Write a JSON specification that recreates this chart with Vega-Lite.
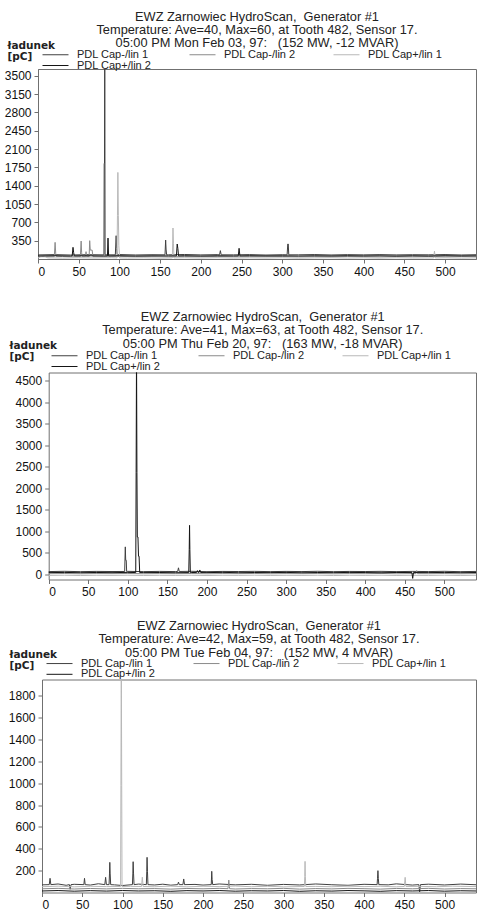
{
  "$schema": "https://vega.github.io/schema/vega-lite/v6.json",
  "padding": {"left": 3, "top": 10, "right": 0, "bottom": 0},
  "background": "white",
  "config": {
    "font": "Liberation Sans",
    "view": {"stroke": "#707070", "strokeWidth": 1},
    "axis": {"domainColor": "#707070", "tickColor": "#707070", "labelColor": "#111111", "labelFontSize": 12, "labelFont": "Liberation Sans", "grid": false, "tickSize": 4, "labelPadding": 3, "format": "d"},
    "title": {"fontSize": 12.8, "font": "Liberation Sans", "fontWeight": "normal", "color": "#222222", "lineHeight": 13.3, "anchor": "middle", "frame": "group"},
    "legend": {"orient": "none", "direction": "horizontal", "columns": 3, "columnPadding": 35, "rowPadding": -3, "symbolType": "M-2.6,0L2.6,0", "symbolSize": 100, "symbolOffset": 8, "symbolStrokeWidth": 1, "labelFontSize": 11, "labelFont": "Liberation Sans", "labelOffset": 16, "labelColor": "#222222", "title": null}
  },
  "datasets": {
    "p1": [
      {"s":"a","x":0,"y":78},{"s":"a","x":20,"y":84},{"s":"a","x":40,"y":76},{"s":"a","x":60,"y":83},{"s":"a","x":80,"y":79},{"s":"a","x":100,"y":85},{"s":"a","x":120,"y":77},{"s":"a","x":140,"y":82},{"s":"a","x":160,"y":80},{"s":"a","x":180,"y":86},{"s":"a","x":200,"y":78},{"s":"a","x":220,"y":83},{"s":"a","x":240,"y":79},{"s":"a","x":260,"y":84},{"s":"a","x":280,"y":76},{"s":"a","x":300,"y":82},{"s":"a","x":320,"y":80},{"s":"a","x":340,"y":85},{"s":"a","x":360,"y":77},{"s":"a","x":380,"y":83},{"s":"a","x":400,"y":79},{"s":"a","x":420,"y":84},{"s":"a","x":440,"y":78},{"s":"a","x":460,"y":82},{"s":"a","x":480,"y":80},{"s":"a","x":500,"y":85},{"s":"a","x":520,"y":77},{"s":"a","x":538,"y":82},
      {"s":"a","x":81,"y":80},{"s":"a","x":81.3,"y":1826},{"s":"a","x":81.7,"y":1826},{"s":"a","x":82,"y":4000},{"s":"a","x":82.4,"y":80},{"s":"a","x":95,"y":80},{"s":"a","x":96,"y":445},{"s":"a","x":96.6,"y":200},{"s":"a","x":97.2,"y":80},{"s":"a","x":156,"y":80},{"s":"a","x":156.8,"y":362},{"s":"a","x":157.3,"y":190},{"s":"a","x":158,"y":80},{"s":"a","x":223,"y":80},{"s":"a","x":224,"y":160},{"s":"a","x":225,"y":80},{"s":"a","x":306,"y":80},{"s":"a","x":306.8,"y":286},{"s":"a","x":307.4,"y":286},{"s":"a","x":308,"y":80},
      {"s":"b","x":0,"y":44},{"s":"b","x":30,"y":48},{"s":"b","x":40,"y":42},{"s":"b","x":60,"y":47},{"s":"b","x":80,"y":43},{"s":"b","x":100,"y":49},{"s":"b","x":120,"y":44},{"s":"b","x":140,"y":46},{"s":"b","x":160,"y":41},{"s":"b","x":180,"y":47},{"s":"b","x":200,"y":44},{"s":"b","x":220,"y":49},{"s":"b","x":240,"y":42},{"s":"b","x":260,"y":46},{"s":"b","x":280,"y":44},{"s":"b","x":300,"y":48},{"s":"b","x":320,"y":41},{"s":"b","x":340,"y":46},{"s":"b","x":360,"y":43},{"s":"b","x":380,"y":48},{"s":"b","x":400,"y":45},{"s":"b","x":420,"y":41},{"s":"b","x":440,"y":47},{"s":"b","x":460,"y":44},{"s":"b","x":480,"y":48},{"s":"b","x":500,"y":42},{"s":"b","x":520,"y":46},{"s":"b","x":538,"y":44},
      {"s":"b","x":20,"y":45},{"s":"b","x":21,"y":318},{"s":"b","x":21.8,"y":100},{"s":"b","x":22.5,"y":45},{"s":"b","x":52,"y":45},{"s":"b","x":53,"y":343},{"s":"b","x":53.6,"y":120},{"s":"b","x":54.3,"y":45},{"s":"b","x":58.5,"y":45},{"s":"b","x":59,"y":140},{"s":"b","x":59.5,"y":45},{"s":"b","x":62.8,"y":45},{"s":"b","x":63.5,"y":350},{"s":"b","x":64.2,"y":170},{"s":"b","x":66.5,"y":170},{"s":"b","x":67.5,"y":45},
      {"s":"c","x":0,"y":18},{"s":"c","x":6,"y":70},{"s":"c","x":12,"y":22},{"s":"c","x":30,"y":17},{"s":"c","x":50,"y":23},{"s":"c","x":70,"y":19},{"s":"c","x":90,"y":24},{"s":"c","x":110,"y":18},{"s":"c","x":130,"y":22},{"s":"c","x":150,"y":16},{"s":"c","x":180,"y":23},{"s":"c","x":200,"y":19},{"s":"c","x":220,"y":24},{"s":"c","x":240,"y":17},{"s":"c","x":260,"y":22},{"s":"c","x":280,"y":18},{"s":"c","x":300,"y":23},{"s":"c","x":320,"y":16},{"s":"c","x":340,"y":21},{"s":"c","x":360,"y":24},{"s":"c","x":380,"y":18},{"s":"c","x":400,"y":22},{"s":"c","x":420,"y":17},{"s":"c","x":440,"y":23},{"s":"c","x":460,"y":19},{"s":"c","x":500,"y":22},{"s":"c","x":520,"y":17},{"s":"c","x":538,"y":21},
      {"s":"c","x":97,"y":20},{"s":"c","x":97.6,"y":827},{"s":"c","x":98.1,"y":1654},{"s":"c","x":98.7,"y":827},{"s":"c","x":99.3,"y":254},{"s":"c","x":100.3,"y":20},{"s":"c","x":165,"y":20},{"s":"c","x":165.8,"y":592},{"s":"c","x":166.4,"y":290},{"s":"c","x":167,"y":20},{"s":"c","x":486,"y":20},{"s":"c","x":487,"y":150},{"s":"c","x":488,"y":20},
      {"s":"d","x":0,"y":58},{"s":"d","x":20,"y":63},{"s":"d","x":40,"y":57},{"s":"d","x":60,"y":62},{"s":"d","x":80,"y":58},{"s":"d","x":100,"y":63},{"s":"d","x":120,"y":57},{"s":"d","x":140,"y":61},{"s":"d","x":160,"y":59},{"s":"d","x":180,"y":63},{"s":"d","x":200,"y":57},{"s":"d","x":220,"y":62},{"s":"d","x":240,"y":58},{"s":"d","x":260,"y":63},{"s":"d","x":280,"y":59},{"s":"d","x":300,"y":61},{"s":"d","x":320,"y":57},{"s":"d","x":340,"y":62},{"s":"d","x":360,"y":58},{"s":"d","x":380,"y":63},{"s":"d","x":400,"y":59},{"s":"d","x":420,"y":61},{"s":"d","x":440,"y":57},{"s":"d","x":460,"y":62},{"s":"d","x":480,"y":58},{"s":"d","x":500,"y":63},{"s":"d","x":520,"y":59},{"s":"d","x":538,"y":61},
      {"s":"d","x":42,"y":60},{"s":"d","x":43,"y":223},{"s":"d","x":43.8,"y":120},{"s":"d","x":44.6,"y":60},{"s":"d","x":85.3,"y":60},{"s":"d","x":86,"y":400},{"s":"d","x":86.7,"y":60},{"s":"d","x":170,"y":60},{"s":"d","x":171,"y":286},{"s":"d","x":171.8,"y":200},{"s":"d","x":172.6,"y":60},{"s":"d","x":246,"y":60},{"s":"d","x":247,"y":204},{"s":"d","x":248,"y":60}
    ],
    "p2": [
      {"s":"a","x":0,"y":68},{"s":"a","x":20,"y":74},{"s":"a","x":40,"y":66},{"s":"a","x":60,"y":72},{"s":"a","x":80,"y":69},{"s":"a","x":100,"y":73},{"s":"a","x":120,"y":67},{"s":"a","x":140,"y":72},{"s":"a","x":160,"y":68},{"s":"a","x":180,"y":74},{"s":"a","x":200,"y":66},{"s":"a","x":220,"y":71},{"s":"a","x":240,"y":69},{"s":"a","x":260,"y":73},{"s":"a","x":280,"y":67},{"s":"a","x":300,"y":72},{"s":"a","x":320,"y":68},{"s":"a","x":340,"y":74},{"s":"a","x":360,"y":66},{"s":"a","x":380,"y":71},{"s":"a","x":400,"y":69},{"s":"a","x":420,"y":73},{"s":"a","x":440,"y":67},{"s":"a","x":460,"y":72},{"s":"a","x":480,"y":68},{"s":"a","x":500,"y":74},{"s":"a","x":520,"y":66},{"s":"a","x":540,"y":71},
      {"s":"a","x":96,"y":70},{"s":"a","x":96.8,"y":641},{"s":"a","x":97.3,"y":330},{"s":"a","x":98,"y":330},{"s":"a","x":98.5,"y":70},{"s":"a","x":163,"y":70},{"s":"a","x":164,"y":155},{"s":"a","x":165,"y":70},
      {"s":"b","x":0,"y":18},{"s":"b","x":20,"y":23},{"s":"b","x":40,"y":16},{"s":"b","x":60,"y":22},{"s":"b","x":80,"y":19},{"s":"b","x":100,"y":24},{"s":"b","x":120,"y":17},{"s":"b","x":140,"y":21},{"s":"b","x":160,"y":18},{"s":"b","x":180,"y":23},{"s":"b","x":200,"y":16},{"s":"b","x":220,"y":22},{"s":"b","x":240,"y":19},{"s":"b","x":260,"y":24},{"s":"b","x":280,"y":17},{"s":"b","x":300,"y":21},{"s":"b","x":320,"y":18},{"s":"b","x":340,"y":23},{"s":"b","x":360,"y":16},{"s":"b","x":380,"y":22},{"s":"b","x":400,"y":19},{"s":"b","x":420,"y":24},{"s":"b","x":440,"y":17},{"s":"b","x":460,"y":21},{"s":"b","x":480,"y":18},{"s":"b","x":500,"y":23},{"s":"b","x":520,"y":16},{"s":"b","x":540,"y":21},
      {"s":"b","x":464,"y":20},{"s":"b","x":465,"y":90},{"s":"b","x":466,"y":20},
      {"s":"c","x":0,"y":-22},{"s":"c","x":20,"y":-17},{"s":"c","x":40,"y":-24},{"s":"c","x":60,"y":-18},{"s":"c","x":80,"y":-21},{"s":"c","x":100,"y":-16},{"s":"c","x":120,"y":-23},{"s":"c","x":140,"y":-19},{"s":"c","x":160,"y":-22},{"s":"c","x":180,"y":-17},{"s":"c","x":200,"y":-24},{"s":"c","x":220,"y":-18},{"s":"c","x":240,"y":-21},{"s":"c","x":260,"y":-16},{"s":"c","x":280,"y":-23},{"s":"c","x":300,"y":-19},{"s":"c","x":320,"y":-22},{"s":"c","x":340,"y":-17},{"s":"c","x":360,"y":-24},{"s":"c","x":380,"y":-18},{"s":"c","x":400,"y":-21},{"s":"c","x":420,"y":-16},{"s":"c","x":440,"y":-23},{"s":"c","x":460,"y":-19},{"s":"c","x":480,"y":-22},{"s":"c","x":500,"y":-17},{"s":"c","x":520,"y":-24},{"s":"c","x":540,"y":-19},
      {"s":"d","x":0,"y":44},{"s":"d","x":20,"y":48},{"s":"d","x":40,"y":42},{"s":"d","x":60,"y":47},{"s":"d","x":80,"y":43},{"s":"d","x":100,"y":49},{"s":"d","x":120,"y":44},{"s":"d","x":140,"y":46},{"s":"d","x":160,"y":41},{"s":"d","x":180,"y":47},{"s":"d","x":200,"y":44},{"s":"d","x":220,"y":49},{"s":"d","x":240,"y":42},{"s":"d","x":260,"y":46},{"s":"d","x":280,"y":44},{"s":"d","x":300,"y":48},{"s":"d","x":320,"y":41},{"s":"d","x":340,"y":46},{"s":"d","x":360,"y":43},{"s":"d","x":380,"y":48},{"s":"d","x":400,"y":45},{"s":"d","x":420,"y":41},{"s":"d","x":440,"y":47},{"s":"d","x":480,"y":44},{"s":"d","x":500,"y":48},{"s":"d","x":520,"y":42},{"s":"d","x":540,"y":46},
      {"s":"d","x":110,"y":45},{"s":"d","x":110.5,"y":2370},{"s":"d","x":111,"y":5200},{"s":"d","x":111.5,"y":2370},{"s":"d","x":112,"y":870},{"s":"d","x":112.8,"y":870},{"s":"d","x":113.5,"y":425},{"s":"d","x":114.2,"y":425},{"s":"d","x":115,"y":45},{"s":"d","x":177,"y":45},{"s":"d","x":177.6,"y":580},{"s":"d","x":178,"y":1140},{"s":"d","x":178.4,"y":580},{"s":"d","x":179,"y":45},{"s":"d","x":187,"y":45},{"s":"d","x":188,"y":90},{"s":"d","x":189,"y":45},{"s":"d","x":190,"y":45},{"s":"d","x":191,"y":105},{"s":"d","x":192,"y":45},{"s":"d","x":459,"y":45},{"s":"d","x":460,"y":-90},{"s":"d","x":461,"y":45}
    ],
    "p3": [
      {"s":"a","x":0,"y":70},{"s":"a","x":20,"y":78},{"s":"a","x":30,"y":66},{"s":"a","x":40,"y":75},{"s":"a","x":60,"y":68},{"s":"a","x":70,"y":80},{"s":"a","x":90,"y":70},{"s":"a","x":100,"y":64},{"s":"a","x":120,"y":77},{"s":"a","x":140,"y":69},{"s":"a","x":150,"y":76},{"s":"a","x":160,"y":67},{"s":"a","x":190,"y":74},{"s":"a","x":200,"y":68},{"s":"a","x":220,"y":78},{"s":"a","x":240,"y":70},{"s":"a","x":260,"y":75},{"s":"a","x":280,"y":66},{"s":"a","x":300,"y":74},{"s":"a","x":320,"y":69},{"s":"a","x":340,"y":78},{"s":"a","x":360,"y":71},{"s":"a","x":380,"y":66},{"s":"a","x":400,"y":75},{"s":"a","x":430,"y":70},{"s":"a","x":440,"y":79},{"s":"a","x":460,"y":68},{"s":"a","x":480,"y":76},{"s":"a","x":500,"y":69},{"s":"a","x":520,"y":77},{"s":"a","x":539,"y":71},
      {"s":"a","x":9,"y":72},{"s":"a","x":10,"y":130},{"s":"a","x":11,"y":72},{"s":"a","x":34,"y":72},{"s":"a","x":35,"y":30},{"s":"a","x":36,"y":72},{"s":"a","x":52,"y":72},{"s":"a","x":52.8,"y":130},{"s":"a","x":53.6,"y":72},{"s":"a","x":78,"y":72},{"s":"a","x":79,"y":139},{"s":"a","x":80,"y":72},{"s":"a","x":83.3,"y":72},{"s":"a","x":83.8,"y":170},{"s":"a","x":84.2,"y":276},{"s":"a","x":84.7,"y":170},{"s":"a","x":85.3,"y":72},{"s":"a","x":112.3,"y":72},{"s":"a","x":112.8,"y":170},{"s":"a","x":113.2,"y":282},{"s":"a","x":113.7,"y":170},{"s":"a","x":114.3,"y":72},{"s":"a","x":129.6,"y":72},{"s":"a","x":130.1,"y":190},{"s":"a","x":130.5,"y":322},{"s":"a","x":131,"y":190},{"s":"a","x":131.6,"y":72},{"s":"a","x":168.5,"y":72},{"s":"a","x":169.5,"y":95},{"s":"a","x":170.5,"y":72},{"s":"a","x":175,"y":72},{"s":"a","x":176,"y":124},{"s":"a","x":177,"y":72},{"s":"a","x":210.2,"y":72},{"s":"a","x":210.8,"y":194},{"s":"a","x":211.3,"y":120},{"s":"a","x":212,"y":72},{"s":"a","x":416.2,"y":72},{"s":"a","x":416.7,"y":130},{"s":"a","x":417.2,"y":200},{"s":"a","x":417.7,"y":130},{"s":"a","x":418.3,"y":72},{"s":"a","x":468,"y":72},{"s":"a","x":469,"y":5},{"s":"a","x":470,"y":72},
      {"s":"b","x":0,"y":34},{"s":"b","x":20,"y":38},{"s":"b","x":40,"y":32},{"s":"b","x":60,"y":37},{"s":"b","x":80,"y":33},{"s":"b","x":100,"y":38},{"s":"b","x":120,"y":34},{"s":"b","x":140,"y":36},{"s":"b","x":160,"y":31},{"s":"b","x":180,"y":37},{"s":"b","x":200,"y":34},{"s":"b","x":220,"y":38},{"s":"b","x":240,"y":32},{"s":"b","x":260,"y":36},{"s":"b","x":280,"y":34},{"s":"b","x":300,"y":38},{"s":"b","x":320,"y":31},{"s":"b","x":340,"y":36},{"s":"b","x":360,"y":33},{"s":"b","x":380,"y":38},{"s":"b","x":400,"y":35},{"s":"b","x":420,"y":31},{"s":"b","x":440,"y":37},{"s":"b","x":460,"y":34},{"s":"b","x":480,"y":38},{"s":"b","x":500,"y":32},{"s":"b","x":520,"y":36},{"s":"b","x":539,"y":34},
      {"s":"b","x":231,"y":35},{"s":"b","x":232,"y":114},{"s":"b","x":233,"y":35},
      {"s":"c","x":0,"y":53},{"s":"c","x":20,"y":58},{"s":"c","x":40,"y":52},{"s":"c","x":60,"y":57},{"s":"c","x":80,"y":54},{"s":"c","x":110,"y":56},{"s":"c","x":140,"y":53},{"s":"c","x":160,"y":58},{"s":"c","x":180,"y":52},{"s":"c","x":200,"y":57},{"s":"c","x":220,"y":54},{"s":"c","x":240,"y":59},{"s":"c","x":260,"y":53},{"s":"c","x":280,"y":57},{"s":"c","x":300,"y":52},{"s":"c","x":340,"y":56},{"s":"c","x":360,"y":53},{"s":"c","x":380,"y":58},{"s":"c","x":400,"y":54},{"s":"c","x":420,"y":57},{"s":"c","x":440,"y":52},{"s":"c","x":470,"y":56},{"s":"c","x":490,"y":53},{"s":"c","x":510,"y":58},{"s":"c","x":539,"y":54},
      {"s":"c","x":97.6,"y":55},{"s":"c","x":98,"y":977},{"s":"c","x":98.5,"y":2200},{"s":"c","x":99,"y":977},{"s":"c","x":99.4,"y":55},{"s":"c","x":123.6,"y":55},{"s":"c","x":124.6,"y":140},{"s":"c","x":125.6,"y":55},{"s":"c","x":325.8,"y":55},{"s":"c","x":326.3,"y":145},{"s":"c","x":326.7,"y":285},{"s":"c","x":327.1,"y":145},{"s":"c","x":327.6,"y":55},{"s":"c","x":450,"y":55},{"s":"c","x":451,"y":139},{"s":"c","x":452,"y":55},
      {"s":"d","x":0,"y":14},{"s":"d","x":20,"y":18},{"s":"d","x":40,"y":12},{"s":"d","x":60,"y":17},{"s":"d","x":80,"y":13},{"s":"d","x":100,"y":18},{"s":"d","x":120,"y":14},{"s":"d","x":140,"y":16},{"s":"d","x":160,"y":11},{"s":"d","x":180,"y":17},{"s":"d","x":200,"y":14},{"s":"d","x":220,"y":18},{"s":"d","x":240,"y":12},{"s":"d","x":260,"y":16},{"s":"d","x":280,"y":14},{"s":"d","x":300,"y":18},{"s":"d","x":320,"y":11},{"s":"d","x":340,"y":16},{"s":"d","x":360,"y":13},{"s":"d","x":380,"y":18},{"s":"d","x":400,"y":15},{"s":"d","x":420,"y":11},{"s":"d","x":440,"y":17},{"s":"d","x":460,"y":14},{"s":"d","x":480,"y":18},{"s":"d","x":500,"y":12},{"s":"d","x":520,"y":16},{"s":"d","x":539,"y":14}
    ]
  },
  "vconcat": [
    {
      "width": 438, "height": 190,
      "title": {"text": ["EWZ Zarnowiec HydroScan,\u00a0 Generator #1", "Temperature: Ave=40, Max=60, at Tooth 482, Sensor 17.", "05:00 PM Mon Feb 03, 97:\u00a0\u00a0 (152 MW, -12 MVAR)"], "offset": -10},
      "data": {"name": "p1"},
      "mark": {"type": "line", "strokeWidth": 1, "clip": true},
      "encoding": {
        "x": {"field": "x", "type": "quantitative", "scale": {"domain": [0, 538], "nice": false, "zero": false}, "axis": {"values": [0,50,100,150,200,250,300,350,400,450,500], "title": null}},
        "y": {"field": "y", "type": "quantitative", "scale": {"domain": [0, 3630], "nice": false}, "axis": {"values": [350,700,1050,1400,1750,2100,2450,2800,3150,3500], "title": ["ładunek", "[pC]"], "titleAngle": 0, "titleX": -31, "titleY": -29, "titleAlign": "left", "titleBaseline": "top", "titleFont": "DejaVu Sans", "titleFontWeight": "bold", "titleFontSize": 10.5, "titleLineHeight": 11, "titleColor": "#222222"}},
        "color": {"field": "s", "type": "nominal", "scale": {"domain": ["a","b","c","d"], "range": ["#404040","#8a8a8a","#b8b8b8","#151515"]}, "legend": {"legendX": 4, "legendY": -20, "labelExpr": "{'a':'PDL Cap-/lin 1','b':'PDL Cap-/lin 2','c':'PDL Cap+/lin 1','d':'PDL Cap+/lin 2'}[datum.value]"}}
      }
    },
    {
      "vconcat": [
        {
          "width": 438, "height": 207,
          "view": {"stroke": null},
          "title": {"text": ["EWZ Zarnowiec HydroScan,\u00a0 Generator #1", "Temperature: Ave=41, Max=63, at Tooth 482, Sensor 17.", "05:00 PM Thu Feb 20, 97:\u00a0\u00a0 (163 MW, -18 MVAR)"], "offset": -10, "dx": 5.7},
          "data": {"name": "p2"},
          "layer": [
            {
              "mark": {"type": "line", "strokeWidth": 1, "clip": true},
              "encoding": {
                "x": {"field": "x", "type": "quantitative", "scale": {"domain": [0, 540], "range": [10.7, 438], "nice": false, "zero": false}, "axis": {"orient": "bottom", "values": [0,50,100,150,200,250,300,350,400,450,500], "title": null}},
                "y": {"field": "y", "type": "quantitative", "scale": {"domain": [-116, 4685], "nice": false, "zero": false}, "axis": {"orient": "left", "offset": -10.7, "values": [0,500,1000,1500,2000,2500,3000,3500,4000,4500], "title": ["ładunek", "[pC]"], "titleAngle": 0, "titleX": -39.7, "titleY": -32, "titleAlign": "left", "titleBaseline": "top", "titleFont": "DejaVu Sans", "titleFontWeight": "bold", "titleFontSize": 10.5, "titleLineHeight": 11, "titleColor": "#222222"}},
                "color": {"field": "s", "type": "nominal", "scale": {"domain": ["a","b","c","d"], "range": ["#404040","#8a8a8a","#b8b8b8","#151515"]}, "legend": {"legendX": 13, "legendY": -22.5, "labelExpr": "{'a':'PDL Cap-/lin 1','b':'PDL Cap-/lin 2','c':'PDL Cap+/lin 1','d':'PDL Cap+/lin 2'}[datum.value]"}}
              }
            },
            {
              "mark": {"type": "line", "strokeOpacity": 0},
              "encoding": {
                "x": {"field": "x", "type": "quantitative", "axis": {"orient": "top", "labels": false, "ticks": false, "title": null}},
                "y": {"field": "y", "type": "quantitative", "axis": {"orient": "right", "labels": false, "ticks": false, "title": null}}
              }
            }
          ],
          "resolve": {"axis": {"x": "independent", "y": "independent"}}
        },
        {
          "width": 438, "height": 213,
          "view": {"stroke": null},
          "title": {"text": ["EWZ Zarnowiec HydroScan,\u00a0 Generator #1", "Temperature: Ave=42, Max=59, at Tooth 482, Sensor 17.", "05:00 PM Tue Feb 04, 97:\u00a0\u00a0 (152 MW, 4 MVAR)"], "offset": -10, "dx": 2},
          "data": {"name": "p3"},
          "layer": [
            {
              "mark": {"type": "line", "strokeWidth": 1, "clip": true},
              "encoding": {
                "x": {"field": "x", "type": "quantitative", "scale": {"domain": [0, 539], "range": [4, 438], "nice": false, "zero": false}, "axis": {"orient": "bottom", "values": [0,50,100,150,200,250,300,350,400,450,500], "title": null}},
                "y": {"field": "y", "type": "quantitative", "scale": {"domain": [0, 1950], "nice": false}, "axis": {"orient": "left", "offset": -4, "values": [200,400,600,800,1000,1200,1400,1600,1800], "title": ["ładunek", "[pC]"], "titleAngle": 0, "titleX": -33, "titleY": -30, "titleAlign": "left", "titleBaseline": "top", "titleFont": "DejaVu Sans", "titleFontWeight": "bold", "titleFontSize": 10.5, "titleLineHeight": 11, "titleColor": "#222222"}},
                "color": {"field": "s", "type": "nominal", "scale": {"domain": ["a","b","c","d"], "range": ["#404040","#8a8a8a","#b8b8b8","#151515"]}, "legend": {"legendX": 8, "legendY": -21.7, "labelExpr": "{'a':'PDL Cap-/lin 1','b':'PDL Cap-/lin 2','c':'PDL Cap+/lin 1','d':'PDL Cap+/lin 2'}[datum.value]"}}
              }
            },
            {
              "mark": {"type": "line", "strokeOpacity": 0},
              "encoding": {
                "x": {"field": "x", "type": "quantitative", "axis": {"orient": "top", "labels": false, "ticks": false, "title": null}},
                "y": {"field": "y", "type": "quantitative", "axis": {"orient": "right", "labels": false, "ticks": false, "title": null}}
              }
            }
          ],
          "resolve": {"axis": {"x": "independent", "y": "independent"}}
        }
      ],
      "spacing": 22,
      "resolve": {"scale": {"x": "independent", "y": "independent", "color": "independent"}, "legend": {"color": "independent"}}
    }
  ],
  "spacing": 32.5,
  "resolve": {"scale": {"x": "independent", "y": "independent", "color": "independent"}, "legend": {"color": "independent"}}
}
